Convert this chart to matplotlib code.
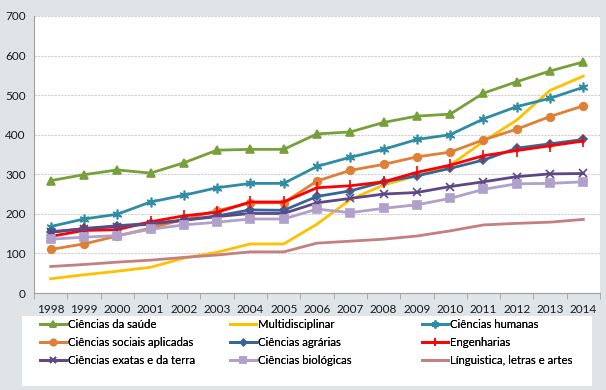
import matplotlib
matplotlib.use("Agg")
import matplotlib.pyplot as plt
from matplotlib.lines import Line2D
from matplotlib.patches import Rectangle

years = list(range(1998, 2015))
year_labels = [str(y) for y in years]

saude = [284, 299, 311, 303, 329, 361, 363, 363, 402, 407, 431, 447, 452, 505, 534, 561, 584]
multidisciplinar = [36, 46, 55, 65, 88, 103, 124, 124, 174, 236, 273, 296, 323, 383, 437, 512, 548]
humanas = [168, 187, 199, 230, 247, 266, 277, 277, 320, 343, 363, 388, 400, 440, 471, 492, 520]
sociais = [110, 124, 144, 164, 186, 208, 228, 228, 283, 310, 325, 344, 356, 387, 414, 446, 473]
agrarias = [153, 163, 170, 176, 184, 195, 210, 209, 244, 258, 281, 296, 315, 336, 366, 377, 388]
engenharias = [143, 158, 160, 180, 195, 204, 230, 230, 266, 271, 281, 305, 323, 347, 360, 372, 384]
exatas = [155, 162, 168, 174, 184, 193, 201, 201, 228, 239, 250, 254, 269, 281, 294, 301, 302]
biologicas = [136, 141, 145, 161, 172, 179, 187, 187, 212, 203, 214, 223, 239, 262, 276, 277, 281]
linguistica = [67, 72, 78, 83, 90, 96, 104, 104, 126, 131, 136, 144, 157, 172, 176, 179, 186]

series = [
    ("Ciências da saúde", saude, "#77A03A", "^", 5.5),
    ("Multidisciplinar", multidisciplinar, "#FFC000", None, 0),
    ("Ciências humanas", humanas, "#2E8CA5", (6, 2, 0), 7),
    ("Ciências sociais aplicadas", sociais, "#E07F36", "o", 5.5),
    ("Ciências agrárias", agrarias, "#356699", "D", 4),
    ("Engenharias", engenharias, "#FF0000", "|", 8),
    ("Ciências exatas e da terra", exatas, "#5E4785", "x", 6),
    ("Ciências biológicas", biologicas, "#B0A0CC", "s", 5.5),
    ("Línguistica, letras e artes", linguistica, "#C48080", None, 0),
]

bg = "#dfe4e9"
plt.rcParams['font.family'] = ['Lato', 'DejaVu Sans']
fig = plt.figure(figsize=(6.06, 3.90), dpi=100, facecolor=bg)
ax = fig.add_axes([34/606, (390-293)/390, 566/606, 277/390])
ax.set_facecolor("white")

x = list(range(len(years)))
handles = []
for name, vals, col, mk, ms in series:
    kw = dict(color=col, lw=2.0)
    if mk is not None:
        kw.update(marker=mk, markersize=ms, markerfacecolor=col, markeredgecolor=col, markeredgewidth=1.2)
    ax.plot(x, vals, **kw)
    h = Line2D([], [], **kw)
    handles.append((h, name))

ax.set_xlim(-0.5, len(years) - 0.5)
ax.set_ylim(0, 700)
ax.set_yticks(range(0, 701, 100))
ax.set_xticks(x)
ax.set_xticklabels(year_labels)
ax.set_xticks([i + 0.5 for i in range(-1, len(years))], minor=True)
ax.tick_params(axis='x', which='major', length=0, pad=8, labelsize=8.5, colors="#1a1a1a")
ax.tick_params(axis='x', which='minor', length=4, color="#a0a0a0", direction='out')
ax.tick_params(axis='y', length=0, pad=6, labelsize=8.5, colors="#1a1a1a")
ax.grid(axis='y', color="#cfcfcf", lw=0.8, ls=(0, (2, 1)))
ax.set_axisbelow(True)
for s in ["top", "right"]:
    ax.spines[s].set_visible(False)
ax.spines["left"].set_color("#a0a0a0")
ax.spines["bottom"].set_color("#a0a0a0")

# legend box
fig.patches.append(Rectangle((22/606, (390-386)/390), 570/606, 70/390,
                             transform=fig.transFigure, facecolor="white", edgecolor="none", zorder=0))
col_x = [40/606, 230/606, 422/606]
for c in range(3):
    hs = [handles[r * 3 + c] for r in range(3)]
    leg = fig.legend([h for h, n in hs], [n for h, n in hs], loc="upper left",
                     bbox_to_anchor=(col_x[c], (390-319)/390), frameon=False,
                     fontsize=8.2, handlelength=2.3, handletextpad=0.15, markerscale=0.8,
                     labelspacing=0.62, borderaxespad=0, borderpad=0)
    fig.add_artist(leg)

fig.savefig("out.png", dpi=100, facecolor=bg)
